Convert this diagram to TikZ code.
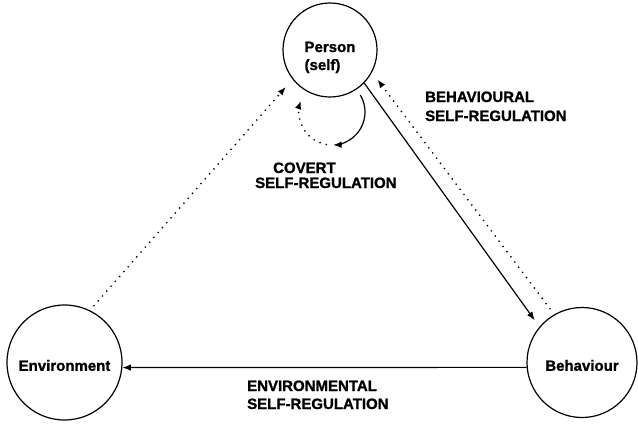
\documentclass[tikz,border=0pt]{standalone}
\usepackage{fontspec}
\setmainfont{Liberation Sans}
\newfontfamily\heavyfont[FakeBold=1.2]{Liberation Sans Bold}
\usetikzlibrary{arrows.meta}
\begin{document}
\begin{tikzpicture}[x=1pt,y=-1pt,
  circ/.style={circle,draw,line width=1.2pt,inner sep=0pt,font=\fontsize{15}{18}\heavyfont},
  lbl/.style={inner sep=0pt,anchor=base west,font=\fontsize{15}{18}\heavyfont},
  tipstyle/.style={-{Latex[length=8.5pt,width=6.5pt]}},
  solidarrow/.style={tipstyle,line width=1.2pt},
  dotarrow/.style={tipstyle,line width=1.9pt,line cap=round,dash pattern=on 0pt off 6.5pt}]
\useasboundingbox (0,0) rectangle (638,424);
\node[circ,minimum size=94pt,align=left] (P) at (330,50) {\rule{0pt}{25.2pt}Person\\(self)};
\node[circ,minimum size=115pt,text height=16.8pt] (E) at (64.5,362.5) {Environment};
\node[circ,minimum size=110pt,text height=16.8pt] (B) at (582,362.5) {Behaviour};
\node[lbl] (cov1) at (273,173) {COVERT};
\node[lbl] (cov2) at (255,188) {SELF-REGULATION};
\node[lbl] (beh1) at (425,102) {BEHAVIOURAL};
\node[lbl] (beh2) at (425,121) {SELF-REGULATION};
\node[lbl] (env1) at (247,391) {ENVIRONMENTAL};
\node[lbl] (env2) at (247,409) {SELF-REGULATION};
\draw[solidarrow,shorten >=8pt] (P.-44) -- (B.140);
\draw[dotarrow,shorten <=7pt,shorten >=9pt] (B.120) -- (P.-28);
\draw[dotarrow,shorten <=6pt,shorten >=10pt] (E.64) -- (P.-142);
\draw[solidarrow] (B.185) -- (E.-5);
\coordinate (loopc) at (332,112);
\draw[solidarrow] ([shift={(-31:33)}]loopc) arc[start angle=-31,end angle=88,radius=33];
\draw[dotarrow] ([shift={(100:33)}]loopc) arc[start angle=100,end angle=200,radius=33];
\end{tikzpicture}
\end{document}
